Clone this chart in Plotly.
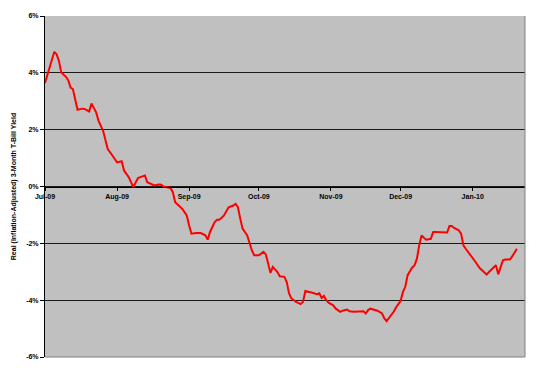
import plotly.graph_objects as go

dates = [
    "2009-07-01", "2009-07-05", "2009-07-06", "2009-07-07", "2009-07-08", "2009-07-10",
    "2009-07-11", "2009-07-12", "2009-07-13", "2009-07-14", "2009-07-15", "2009-07-17",
    "2009-07-18", "2009-07-20", "2009-07-21", "2009-07-23", "2009-07-24", "2009-07-26",
    "2009-07-28", "2009-07-30", "2009-08-01", "2009-08-03", "2009-08-04", "2009-08-06",
    "2009-08-08", "2009-08-10", "2009-08-11", "2009-08-13", "2009-08-14", "2009-08-16",
    "2009-08-17", "2009-08-19", "2009-08-20", "2009-08-21", "2009-08-24", "2009-08-25",
    "2009-08-26", "2009-08-29", "2009-08-31", "2009-09-01", "2009-09-02", "2009-09-04",
    "2009-09-06", "2009-09-08", "2009-09-09", "2009-09-10", "2009-09-12", "2009-09-13",
    "2009-09-14", "2009-09-15", "2009-09-16", "2009-09-18", "2009-09-20", "2009-09-21",
    "2009-09-22", "2009-09-23", "2009-09-24", "2009-09-26", "2009-09-27", "2009-09-28",
    "2009-09-29", "2009-10-01", "2009-10-03", "2009-10-04", "2009-10-05", "2009-10-06",
    "2009-10-07", "2009-10-09", "2009-10-10", "2009-10-12", "2009-10-13", "2009-10-14",
    "2009-10-15", "2009-10-17", "2009-10-19", "2009-10-20", "2009-10-21", "2009-10-23",
    "2009-10-24", "2009-10-26", "2009-10-27", "2009-10-28", "2009-10-29", "2009-10-30",
    "2009-10-31", "2009-11-02", "2009-11-03", "2009-11-05", "2009-11-06", "2009-11-08",
    "2009-11-09", "2009-11-11", "2009-11-13", "2009-11-15", "2009-11-16", "2009-11-17",
    "2009-11-18", "2009-11-20", "2009-11-21", "2009-11-23", "2009-11-24", "2009-11-25",
    "2009-11-26", "2009-11-28", "2009-11-29", "2009-12-01", "2009-12-02", "2009-12-03",
    "2009-12-04", "2009-12-06", "2009-12-07", "2009-12-08", "2009-12-09", "2009-12-10",
    "2009-12-11", "2009-12-12", "2009-12-14", "2009-12-15", "2009-12-16", "2009-12-19",
    "2009-12-21", "2009-12-22", "2009-12-23", "2009-12-24", "2009-12-26", "2009-12-27",
    "2009-12-28", "2009-12-29", "2009-12-31", "2010-01-02", "2010-01-04", "2010-01-07",
    "2010-01-08", "2010-01-10", "2010-01-11", "2010-01-12", "2010-01-13", "2010-01-14",
    "2010-01-15", "2010-01-17", "2010-01-18", "2010-01-20",
]
real_yield = [
    3.64, 4.74, 4.65, 4.42, 4.01, 3.86,
    3.74, 3.48, 3.43, 3.08, 2.70, 2.74,
    2.73, 2.64, 2.92, 2.61, 2.32, 1.96,
    1.32, 1.09, 0.85, 0.89, 0.56, 0.33,
    -0.02, 0.30, 0.33, 0.39, 0.15, 0.06,
    0.04, 0.07, 0.06, 0.00, -0.05, -0.20,
    -0.55, -0.78, -1.02, -1.37, -1.66, -1.64,
    -1.64, -1.72, -1.87, -1.60, -1.25, -1.17,
    -1.17, -1.10, -1.02, -0.73, -0.67, -0.61,
    -0.73, -1.13, -1.48, -1.72, -2.01, -2.25,
    -2.42, -2.42, -2.30, -2.39, -2.71, -3.04,
    -2.83, -3.01, -3.16, -3.18, -3.36, -3.76,
    -3.94, -4.06, -4.14, -4.06, -3.68, -3.71,
    -3.74, -3.79, -3.76, -3.92, -3.85, -4.00,
    -4.09, -4.18, -4.29, -4.41, -4.37, -4.33,
    -4.39, -4.41, -4.39, -4.39, -4.47, -4.35,
    -4.30, -4.33, -4.37, -4.47, -4.64, -4.74,
    -4.64, -4.41, -4.26, -4.02, -3.71, -3.53,
    -3.12, -2.85, -2.77, -2.54, -2.07, -1.72,
    -1.80, -1.87, -1.84, -1.60, -1.60, -1.62,
    -1.62, -1.39, -1.39, -1.46, -1.54, -1.66,
    -2.07, -2.19, -2.39, -2.63, -2.87, -3.10,
    -3.01, -2.85, -2.77, -3.09, -2.85, -2.60,
    -2.57, -2.57, -2.46, -2.19,
]

month_ticks = ["2009-07-01", "2009-08-01", "2009-09-01", "2009-10-01",
               "2009-11-01", "2009-12-01", "2010-01-01"]
month_labels = ["Jul-09", "Aug-09", "Sep-09", "Oct-09", "Nov-09", "Dec-09", "Jan-10"]
y_ticks = [-6, -4, -2, 0, 2, 4, 6]
y_labels = ["-6%", "-4%", "-2%", "0%", "2%", "4%", "6%"]

font_family = "Liberation Sans, Arial, sans-serif"

fig = go.Figure()
fig.add_trace(go.Scatter(
    x=dates, y=real_yield, mode="lines",
    line=dict(color="#FF0000", width=2),
    showlegend=False, hoverinfo="skip",
))

fig.update_layout(
    width=550, height=376,
    margin=dict(l=45, r=25, t=16, b=19),
    paper_bgcolor="white",
    plot_bgcolor="#C0C0C0",
    xaxis=dict(
        type="date",
        range=["2009-07-01", "2010-01-23 12:00"],
        tickvals=month_ticks, ticktext=month_labels,
        anchor="free", position=0.5,
        showgrid=False, zeroline=False,
        showline=True, linecolor="black", linewidth=1,
        ticks="outside", ticklen=3, tickcolor="black",
        tickfont=dict(family=font_family, size=7, color="black", weight="bold"),
    ),
    yaxis=dict(
        range=[-6, 6],
        tickvals=y_ticks, ticktext=y_labels,
        showgrid=True, gridcolor="#1a1a1a", gridwidth=1,
        zeroline=False,
        showline=True, linecolor="black", linewidth=1,
        ticks="outside", ticklen=4, tickcolor="black",
        tickfont=dict(family=font_family, size=7, color="black", weight="bold"),
        title=dict(
            text="Real (Inflation-Adjusted) 3-Month T-Bill Yield",
            font=dict(family=font_family, size=7, color="black", weight="bold"),
            standoff=8,
        ),
    ),
    shapes=[
        dict(type="line", xref="paper", yref="paper", x0=0, x1=1, y0=0, y1=0,
             line=dict(color="#808080", width=1)),
        dict(type="line", xref="paper", yref="paper", x0=1, x1=1, y0=0, y1=1,
             line=dict(color="#808080", width=1)),
    ],
)

fig.write_html("out.html")
